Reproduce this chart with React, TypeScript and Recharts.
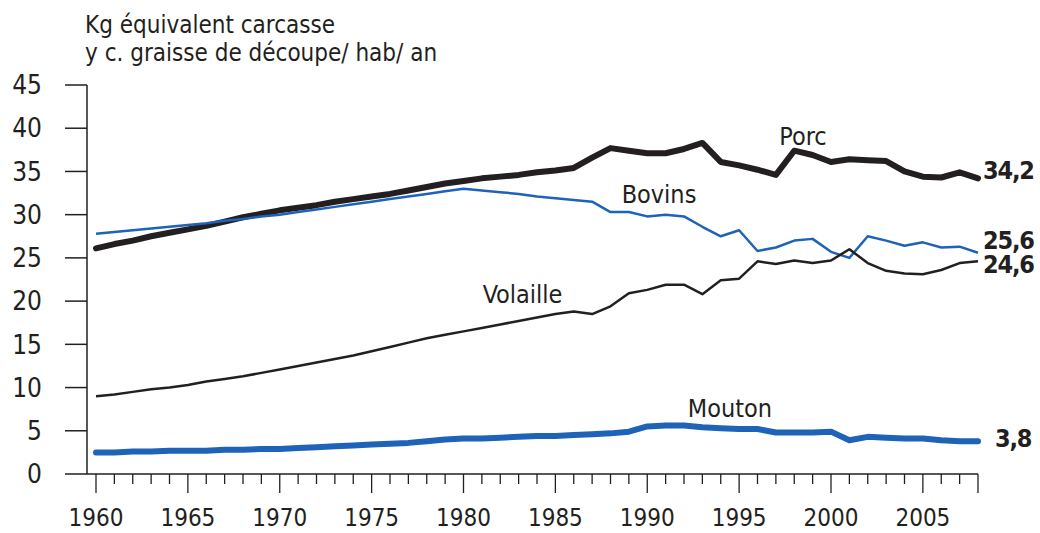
import React from "react";
import { LineChart, Line, XAxis, YAxis } from "recharts";

const years = [
  1960, 1961, 1962, 1963, 1964, 1965, 1966, 1967, 1968, 1969,
  1970, 1971, 1972, 1973, 1974, 1975, 1976, 1977, 1978, 1979,
  1980, 1981, 1982, 1983, 1984, 1985, 1986, 1987, 1988, 1989,
  1990, 1991, 1992, 1993, 1994, 1995, 1996, 1997, 1998, 1999,
  2000, 2001, 2002, 2003, 2004, 2005, 2006, 2007, 2008,
];

const porc = [
  26.1, 26.6, 27.0, 27.5, 27.9, 28.3, 28.7, 29.2, 29.7, 30.1,
  30.5, 30.8, 31.1, 31.5, 31.8, 32.1, 32.4, 32.8, 33.2, 33.6,
  33.9, 34.2, 34.4, 34.6, 34.9, 35.1, 35.4, 36.6, 37.7, 37.4,
  37.1, 37.1, 37.6, 38.3, 36.1, 35.7, 35.2, 34.6, 37.4, 36.9,
  36.1, 36.4, 36.3, 36.2, 35.0, 34.4, 34.3, 34.9, 34.2,
];

const bovins = [
  27.8, 28.0, 28.2, 28.4, 28.6, 28.8, 29.0, 29.3, 29.5, 29.8,
  30.0, 30.3, 30.6, 30.9, 31.2, 31.5, 31.8, 32.1, 32.4, 32.7,
  33.0, 32.8, 32.6, 32.4, 32.1, 31.9, 31.7, 31.5, 30.3, 30.3,
  29.8, 30.0, 29.8, 28.6, 27.5, 28.2, 25.8, 26.2, 27.0, 27.2,
  25.7, 25.0, 27.5, 27.0, 26.4, 26.8, 26.2, 26.3, 25.6,
];

const volaille = [
  9.0, 9.2, 9.5, 9.8, 10.0, 10.3, 10.7, 11.0, 11.3, 11.7,
  12.1, 12.5, 12.9, 13.3, 13.7, 14.2, 14.7, 15.2, 15.7, 16.1,
  16.5, 16.9, 17.3, 17.7, 18.1, 18.5, 18.8, 18.5, 19.4, 20.9,
  21.3, 21.9, 21.9, 20.8, 22.4, 22.6, 24.6, 24.3, 24.7, 24.4,
  24.7, 26.0, 24.4, 23.5, 23.2, 23.1, 23.6, 24.4, 24.6,
];

const mouton = [
  2.5, 2.5, 2.6, 2.6, 2.7, 2.7, 2.7, 2.8, 2.8, 2.9,
  2.9, 3.0, 3.1, 3.2, 3.3, 3.4, 3.5, 3.6, 3.8, 4.0,
  4.1, 4.1, 4.2, 4.3, 4.4, 4.4, 4.5, 4.6, 4.7, 4.9,
  5.5, 5.6, 5.6, 5.4, 5.3, 5.2, 5.2, 4.8, 4.8, 4.8,
  4.9, 3.9, 4.3, 4.2, 4.1, 4.1, 3.9, 3.8, 3.8,
];

const yTicks = [0, 5, 10, 15, 20, 25, 30, 35, 40, 45];
const titleLines = ["Kg équivalent carcasse", "y c. graisse de découpe/ hab/ an"];

const data = years.map((year, i) => ({
  year,
  porc: porc[i],
  bovins: bovins[i],
  volaille: volaille[i],
  mouton: mouton[i],
}));

const ink = "#231f20";
const blue = "#1f63b8";
const font = "'DejaVu Sans Condensed', 'DejaVu Sans', sans-serif";
const last = years.length - 1;

function XTick(props: any) {
  const { x, y, payload } = props;
  const yr = payload.value;
  const major = yr % 5 === 0 || yr === 2008;
  return (
    <g>
      <line x1={x} x2={x} y1={y} y2={y + (major ? 19 : 10)} stroke={ink} strokeWidth={1.3} />
      {yr % 5 === 0 && (
        <text x={x} y={y + 52} textAnchor="middle" fontFamily={font} fontSize={24} fill={ink}>
          {yr}
        </text>
      )}
    </g>
  );
}

// name label near a chosen point + bold value at the end
const seriesLabel =
  (name: string, nameIdx: number, ndx: number, ndy: number, vdx: number, vdy: number) =>
  (p: any) => {
    if (p.index === nameIdx) {
      return (
        <text key={`n-${name}`} x={p.x + ndx} y={p.y + ndy} fontFamily={font} fontSize={25} fill={ink}>
          {name}
        </text>
      );
    }
    if (p.index === last) {
      return (
        <text
          key={`v-${name}`}
          x={p.x + vdx}
          y={p.y + vdy}
          fontFamily={font}
          fontWeight="bold"
          fontSize={25}
          letterSpacing={-1.2}
          fill={ink}
        >
          {String(p.value).replace(".", ",")}
        </text>
      );
    }
    return <g key={`e-${name}-${p.index}`} />;
  };

export default function App() {
  return (
    <div style={{ position: "absolute", left: 0, top: 0, width: 1040, height: 533, background: "#fff" }}>
      <LineChart width={1040} height={533} data={data} margin={{ top: 85, right: 62, bottom: 0, left: 0 }}>
        <XAxis
          dataKey="year"
          type="number"
          domain={[1960, 2008]}
          ticks={years}
          interval={0}
          padding={{ left: 9, right: 0 }}
          height={59}
          tickSize={0}
          tickMargin={0}
          tickLine={false}
          tick={<XTick />}
          axisLine={{ stroke: ink, strokeWidth: 1.5 }}
        />
        <YAxis
          domain={[0, 45]}
          ticks={yTicks}
          interval={0}
          width={87}
          tickSize={22}
          tickMargin={23}
          axisLine={{ stroke: ink, strokeWidth: 1.5 }}
          tickLine={{ stroke: ink, strokeWidth: 1.5 }}
          tick={{ fontFamily: font, fontSize: 26, fill: ink }}
        />
        <Line
          dataKey="porc"
          stroke={ink}
          strokeWidth={6}
          strokeLinejoin="round"
          strokeLinecap="round"
          dot={false}
          isAnimationActive={false}
          label={seriesLabel("Porc", 38, -15, -6, 5, 1)}
        />
        <Line
          dataKey="bovins"
          stroke={blue}
          strokeWidth={2.5}
          strokeLinejoin="round"
          dot={false}
          isAnimationActive={false}
          label={seriesLabel("Bovins", 31, -44, -12, 5, -4)}
        />
        <Line
          dataKey="volaille"
          stroke={ink}
          strokeWidth={2.5}
          strokeLinejoin="round"
          dot={false}
          isAnimationActive={false}
          label={seriesLabel("Volaille", 23, -36, -18, 5, 12)}
        />
        <Line
          dataKey="mouton"
          stroke={blue}
          strokeWidth={6}
          strokeLinejoin="round"
          strokeLinecap="round"
          dot={false}
          isAnimationActive={false}
          label={seriesLabel("Mouton", 34, -33, -11, 17, 6)}
        />
      </LineChart>
      <svg width={1040} height={533} style={{ position: "absolute", left: 0, top: 0, pointerEvents: "none" }}>
        {titleLines.map((t, i) => (
          <text key={t} x={85} y={33 + i * 28} fontFamily={font} fontSize={24} fill={ink}>
            {t}
          </text>
        ))}
      </svg>
    </div>
  );
}
